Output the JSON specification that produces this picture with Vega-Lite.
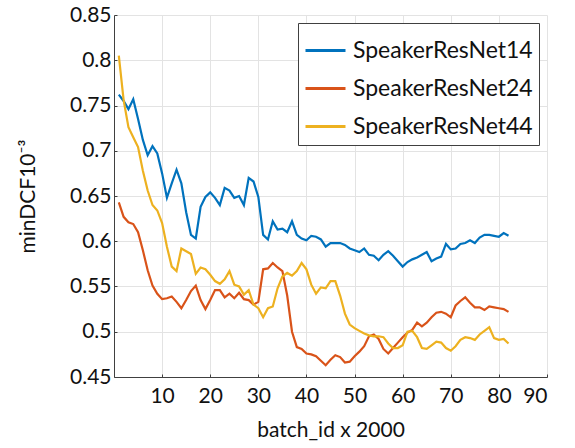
{
  "$schema": "https://vega.github.io/schema/vega-lite/v6.json",
  "autosize": {"type": "none"},
  "width": 433,
  "height": 362,
  "padding": {"left": 114, "top": 15, "right": 28, "bottom": 71},
  "background": "white",
  "config": {
    "font": "Lato",
    "view": {"stroke": null},
    "axis": {
      "labelFont": "Lato", "titleFont": "Lato", "labelColor": "#111", "titleColor": "#111",
      "labelFontSize": 21, "titleFontSize": 21, "titleFontWeight": "normal",
      "domainColor": "#404040", "domainWidth": 1, "tickColor": "#404040",
      "gridColor": "#e3e3e3", "gridWidth": 1
    },
    "legend": {
      "orient": "top-right", "offset": 8, "fillColor": "white", "strokeColor": "#404040",
      "padding": 6, "labelFont": "Lato", "labelFontSize": 23, "labelColor": "#111",
      "symbolType": "stroke", "symbolStrokeWidth": 3, "symbolSize": 1600, "rowPadding": 4,
      "labelOffset": 6, "title": null, "labelLimit": 400
    }
  },
  "data": {"values": [
    {"model":"SpeakerResNet14","x":1,"y":0.762},{"model":"SpeakerResNet14","x":2,"y":0.755},{"model":"SpeakerResNet14","x":3,"y":0.746},{"model":"SpeakerResNet14","x":4,"y":0.757},{"model":"SpeakerResNet14","x":5,"y":0.735},{"model":"SpeakerResNet14","x":6,"y":0.712},{"model":"SpeakerResNet14","x":7,"y":0.695},{"model":"SpeakerResNet14","x":8,"y":0.705},{"model":"SpeakerResNet14","x":9,"y":0.697},{"model":"SpeakerResNet14","x":10,"y":0.675},
    {"model":"SpeakerResNet14","x":11,"y":0.648},{"model":"SpeakerResNet14","x":12,"y":0.664},{"model":"SpeakerResNet14","x":13,"y":0.679},{"model":"SpeakerResNet14","x":14,"y":0.664},{"model":"SpeakerResNet14","x":15,"y":0.632},{"model":"SpeakerResNet14","x":16,"y":0.607},{"model":"SpeakerResNet14","x":17,"y":0.603},{"model":"SpeakerResNet14","x":18,"y":0.638},{"model":"SpeakerResNet14","x":19,"y":0.649},{"model":"SpeakerResNet14","x":20,"y":0.654},
    {"model":"SpeakerResNet14","x":21,"y":0.648},{"model":"SpeakerResNet14","x":22,"y":0.640},{"model":"SpeakerResNet14","x":23,"y":0.659},{"model":"SpeakerResNet14","x":24,"y":0.656},{"model":"SpeakerResNet14","x":25,"y":0.648},{"model":"SpeakerResNet14","x":26,"y":0.650},{"model":"SpeakerResNet14","x":27,"y":0.640},{"model":"SpeakerResNet14","x":28,"y":0.670},{"model":"SpeakerResNet14","x":29,"y":0.666},{"model":"SpeakerResNet14","x":30,"y":0.649},
    {"model":"SpeakerResNet14","x":31,"y":0.607},{"model":"SpeakerResNet14","x":32,"y":0.602},{"model":"SpeakerResNet14","x":33,"y":0.622},{"model":"SpeakerResNet14","x":34,"y":0.613},{"model":"SpeakerResNet14","x":35,"y":0.614},{"model":"SpeakerResNet14","x":36,"y":0.610},{"model":"SpeakerResNet14","x":37,"y":0.622},{"model":"SpeakerResNet14","x":38,"y":0.607},{"model":"SpeakerResNet14","x":39,"y":0.603},{"model":"SpeakerResNet14","x":40,"y":0.601},
    {"model":"SpeakerResNet14","x":41,"y":0.606},{"model":"SpeakerResNet14","x":42,"y":0.605},{"model":"SpeakerResNet14","x":43,"y":0.602},{"model":"SpeakerResNet14","x":44,"y":0.594},{"model":"SpeakerResNet14","x":45,"y":0.598},{"model":"SpeakerResNet14","x":46,"y":0.598},{"model":"SpeakerResNet14","x":47,"y":0.598},{"model":"SpeakerResNet14","x":48,"y":0.596},{"model":"SpeakerResNet14","x":49,"y":0.592},{"model":"SpeakerResNet14","x":50,"y":0.590},
    {"model":"SpeakerResNet14","x":51,"y":0.588},{"model":"SpeakerResNet14","x":52,"y":0.592},{"model":"SpeakerResNet14","x":53,"y":0.585},{"model":"SpeakerResNet14","x":54,"y":0.584},{"model":"SpeakerResNet14","x":55,"y":0.579},{"model":"SpeakerResNet14","x":56,"y":0.585},{"model":"SpeakerResNet14","x":57,"y":0.589},{"model":"SpeakerResNet14","x":58,"y":0.584},{"model":"SpeakerResNet14","x":59,"y":0.578},{"model":"SpeakerResNet14","x":60,"y":0.572},
    {"model":"SpeakerResNet14","x":61,"y":0.577},{"model":"SpeakerResNet14","x":62,"y":0.580},{"model":"SpeakerResNet14","x":63,"y":0.582},{"model":"SpeakerResNet14","x":64,"y":0.585},{"model":"SpeakerResNet14","x":65,"y":0.588},{"model":"SpeakerResNet14","x":66,"y":0.578},{"model":"SpeakerResNet14","x":67,"y":0.581},{"model":"SpeakerResNet14","x":68,"y":0.583},{"model":"SpeakerResNet14","x":69,"y":0.597},{"model":"SpeakerResNet14","x":70,"y":0.591},
    {"model":"SpeakerResNet14","x":71,"y":0.592},{"model":"SpeakerResNet14","x":72,"y":0.597},{"model":"SpeakerResNet14","x":73,"y":0.598},{"model":"SpeakerResNet14","x":74,"y":0.601},{"model":"SpeakerResNet14","x":75,"y":0.598},{"model":"SpeakerResNet14","x":76,"y":0.604},{"model":"SpeakerResNet14","x":77,"y":0.607},{"model":"SpeakerResNet14","x":78,"y":0.607},{"model":"SpeakerResNet14","x":79,"y":0.606},{"model":"SpeakerResNet14","x":80,"y":0.605},
    {"model":"SpeakerResNet14","x":81,"y":0.609},{"model":"SpeakerResNet14","x":82,"y":0.606},
    {"model":"SpeakerResNet24","x":1,"y":0.643},{"model":"SpeakerResNet24","x":2,"y":0.627},{"model":"SpeakerResNet24","x":3,"y":0.621},{"model":"SpeakerResNet24","x":4,"y":0.619},{"model":"SpeakerResNet24","x":5,"y":0.610},{"model":"SpeakerResNet24","x":6,"y":0.590},{"model":"SpeakerResNet24","x":7,"y":0.568},{"model":"SpeakerResNet24","x":8,"y":0.551},{"model":"SpeakerResNet24","x":9,"y":0.542},{"model":"SpeakerResNet24","x":10,"y":0.536},
    {"model":"SpeakerResNet24","x":11,"y":0.537},{"model":"SpeakerResNet24","x":12,"y":0.539},{"model":"SpeakerResNet24","x":13,"y":0.533},{"model":"SpeakerResNet24","x":14,"y":0.526},{"model":"SpeakerResNet24","x":15,"y":0.535},{"model":"SpeakerResNet24","x":16,"y":0.545},{"model":"SpeakerResNet24","x":17,"y":0.551},{"model":"SpeakerResNet24","x":18,"y":0.535},{"model":"SpeakerResNet24","x":19,"y":0.525},{"model":"SpeakerResNet24","x":20,"y":0.535},
    {"model":"SpeakerResNet24","x":21,"y":0.546},{"model":"SpeakerResNet24","x":22,"y":0.546},{"model":"SpeakerResNet24","x":23,"y":0.538},{"model":"SpeakerResNet24","x":24,"y":0.542},{"model":"SpeakerResNet24","x":25,"y":0.537},{"model":"SpeakerResNet24","x":26,"y":0.543},{"model":"SpeakerResNet24","x":27,"y":0.536},{"model":"SpeakerResNet24","x":28,"y":0.535},{"model":"SpeakerResNet24","x":29,"y":0.530},{"model":"SpeakerResNet24","x":30,"y":0.533},
    {"model":"SpeakerResNet24","x":31,"y":0.569},{"model":"SpeakerResNet24","x":32,"y":0.570},{"model":"SpeakerResNet24","x":33,"y":0.576},{"model":"SpeakerResNet24","x":34,"y":0.571},{"model":"SpeakerResNet24","x":35,"y":0.567},{"model":"SpeakerResNet24","x":36,"y":0.540},{"model":"SpeakerResNet24","x":37,"y":0.500},{"model":"SpeakerResNet24","x":38,"y":0.483},{"model":"SpeakerResNet24","x":39,"y":0.481},{"model":"SpeakerResNet24","x":40,"y":0.476},
    {"model":"SpeakerResNet24","x":41,"y":0.475},{"model":"SpeakerResNet24","x":42,"y":0.473},{"model":"SpeakerResNet24","x":43,"y":0.468},{"model":"SpeakerResNet24","x":44,"y":0.463},{"model":"SpeakerResNet24","x":45,"y":0.469},{"model":"SpeakerResNet24","x":46,"y":0.474},{"model":"SpeakerResNet24","x":47,"y":0.472},{"model":"SpeakerResNet24","x":48,"y":0.466},{"model":"SpeakerResNet24","x":49,"y":0.467},{"model":"SpeakerResNet24","x":50,"y":0.473},
    {"model":"SpeakerResNet24","x":51,"y":0.478},{"model":"SpeakerResNet24","x":52,"y":0.484},{"model":"SpeakerResNet24","x":53,"y":0.495},{"model":"SpeakerResNet24","x":54,"y":0.497},{"model":"SpeakerResNet24","x":55,"y":0.492},{"model":"SpeakerResNet24","x":56,"y":0.481},{"model":"SpeakerResNet24","x":57,"y":0.476},{"model":"SpeakerResNet24","x":58,"y":0.482},{"model":"SpeakerResNet24","x":59,"y":0.488},{"model":"SpeakerResNet24","x":60,"y":0.494},
    {"model":"SpeakerResNet24","x":61,"y":0.499},{"model":"SpeakerResNet24","x":62,"y":0.502},{"model":"SpeakerResNet24","x":63,"y":0.510},{"model":"SpeakerResNet24","x":64,"y":0.506},{"model":"SpeakerResNet24","x":65,"y":0.510},{"model":"SpeakerResNet24","x":66,"y":0.516},{"model":"SpeakerResNet24","x":67,"y":0.521},{"model":"SpeakerResNet24","x":68,"y":0.522},{"model":"SpeakerResNet24","x":69,"y":0.520},{"model":"SpeakerResNet24","x":70,"y":0.516},
    {"model":"SpeakerResNet24","x":71,"y":0.529},{"model":"SpeakerResNet24","x":72,"y":0.534},{"model":"SpeakerResNet24","x":73,"y":0.538},{"model":"SpeakerResNet24","x":74,"y":0.532},{"model":"SpeakerResNet24","x":75,"y":0.527},{"model":"SpeakerResNet24","x":76,"y":0.527},{"model":"SpeakerResNet24","x":77,"y":0.524},{"model":"SpeakerResNet24","x":78,"y":0.528},{"model":"SpeakerResNet24","x":79,"y":0.527},{"model":"SpeakerResNet24","x":80,"y":0.526},
    {"model":"SpeakerResNet24","x":81,"y":0.525},{"model":"SpeakerResNet24","x":82,"y":0.522},
    {"model":"SpeakerResNet44","x":1,"y":0.805},{"model":"SpeakerResNet44","x":2,"y":0.756},{"model":"SpeakerResNet44","x":3,"y":0.726},{"model":"SpeakerResNet44","x":4,"y":0.715},{"model":"SpeakerResNet44","x":5,"y":0.704},{"model":"SpeakerResNet44","x":6,"y":0.678},{"model":"SpeakerResNet44","x":7,"y":0.656},{"model":"SpeakerResNet44","x":8,"y":0.640},{"model":"SpeakerResNet44","x":9,"y":0.634},{"model":"SpeakerResNet44","x":10,"y":0.620},
    {"model":"SpeakerResNet44","x":11,"y":0.594},{"model":"SpeakerResNet44","x":12,"y":0.572},{"model":"SpeakerResNet44","x":13,"y":0.567},{"model":"SpeakerResNet44","x":14,"y":0.592},{"model":"SpeakerResNet44","x":15,"y":0.589},{"model":"SpeakerResNet44","x":16,"y":0.586},{"model":"SpeakerResNet44","x":17,"y":0.564},{"model":"SpeakerResNet44","x":18,"y":0.571},{"model":"SpeakerResNet44","x":19,"y":0.569},{"model":"SpeakerResNet44","x":20,"y":0.563},
    {"model":"SpeakerResNet44","x":21,"y":0.556},{"model":"SpeakerResNet44","x":22,"y":0.553},{"model":"SpeakerResNet44","x":23,"y":0.558},{"model":"SpeakerResNet44","x":24,"y":0.567},{"model":"SpeakerResNet44","x":25,"y":0.552},{"model":"SpeakerResNet44","x":26,"y":0.550},{"model":"SpeakerResNet44","x":27,"y":0.541},{"model":"SpeakerResNet44","x":28,"y":0.546},{"model":"SpeakerResNet44","x":29,"y":0.530},{"model":"SpeakerResNet44","x":30,"y":0.526},
    {"model":"SpeakerResNet44","x":31,"y":0.516},{"model":"SpeakerResNet44","x":32,"y":0.526},{"model":"SpeakerResNet44","x":33,"y":0.528},{"model":"SpeakerResNet44","x":34,"y":0.548},{"model":"SpeakerResNet44","x":35,"y":0.561},{"model":"SpeakerResNet44","x":36,"y":0.565},{"model":"SpeakerResNet44","x":37,"y":0.562},{"model":"SpeakerResNet44","x":38,"y":0.567},{"model":"SpeakerResNet44","x":39,"y":0.576},{"model":"SpeakerResNet44","x":40,"y":0.569},
    {"model":"SpeakerResNet44","x":41,"y":0.552},{"model":"SpeakerResNet44","x":42,"y":0.542},{"model":"SpeakerResNet44","x":43,"y":0.549},{"model":"SpeakerResNet44","x":44,"y":0.548},{"model":"SpeakerResNet44","x":45,"y":0.556},{"model":"SpeakerResNet44","x":46,"y":0.556},{"model":"SpeakerResNet44","x":47,"y":0.540},{"model":"SpeakerResNet44","x":48,"y":0.520},{"model":"SpeakerResNet44","x":49,"y":0.508},{"model":"SpeakerResNet44","x":50,"y":0.504},
    {"model":"SpeakerResNet44","x":51,"y":0.501},{"model":"SpeakerResNet44","x":52,"y":0.498},{"model":"SpeakerResNet44","x":53,"y":0.496},{"model":"SpeakerResNet44","x":54,"y":0.495},{"model":"SpeakerResNet44","x":55,"y":0.495},{"model":"SpeakerResNet44","x":56,"y":0.494},{"model":"SpeakerResNet44","x":57,"y":0.487},{"model":"SpeakerResNet44","x":58,"y":0.482},{"model":"SpeakerResNet44","x":59,"y":0.482},{"model":"SpeakerResNet44","x":60,"y":0.485},
    {"model":"SpeakerResNet44","x":61,"y":0.500},{"model":"SpeakerResNet44","x":62,"y":0.501},{"model":"SpeakerResNet44","x":63,"y":0.494},{"model":"SpeakerResNet44","x":64,"y":0.482},{"model":"SpeakerResNet44","x":65,"y":0.481},{"model":"SpeakerResNet44","x":66,"y":0.485},{"model":"SpeakerResNet44","x":67,"y":0.489},{"model":"SpeakerResNet44","x":68,"y":0.488},{"model":"SpeakerResNet44","x":69,"y":0.482},{"model":"SpeakerResNet44","x":70,"y":0.479},
    {"model":"SpeakerResNet44","x":71,"y":0.484},{"model":"SpeakerResNet44","x":72,"y":0.491},{"model":"SpeakerResNet44","x":73,"y":0.494},{"model":"SpeakerResNet44","x":74,"y":0.493},{"model":"SpeakerResNet44","x":75,"y":0.491},{"model":"SpeakerResNet44","x":76,"y":0.497},{"model":"SpeakerResNet44","x":77,"y":0.501},{"model":"SpeakerResNet44","x":78,"y":0.505},{"model":"SpeakerResNet44","x":79,"y":0.493},{"model":"SpeakerResNet44","x":80,"y":0.491},
    {"model":"SpeakerResNet44","x":81,"y":0.492},{"model":"SpeakerResNet44","x":82,"y":0.487}
  ]},
  "mark": {"type": "line", "strokeWidth": 2.2, "clip": true},
  "encoding": {
    "x": {
      "field": "x", "type": "quantitative",
      "scale": {"domain": [0, 90], "nice": false, "zero": false},
      "axis": {"values": [10, 20, 30, 40, 50, 60, 70, 80, 90], "title": "batch_id x 2000", "tickSize": -3, "labelPadding": 11, "titlePadding": 13}
    },
    "y": {
      "field": "y", "type": "quantitative",
      "scale": {"domain": [0.45, 0.85], "nice": false, "zero": false},
      "axis": {"values": [0.45, 0.5, 0.55, 0.6, 0.65, 0.7, 0.75, 0.8, 0.85], "format": ".2~f", "title": "minDCF10⁻³", "tickSize": -3, "labelPadding": 6, "titlePadding": 31}
    },
    "color": {
      "field": "model", "type": "nominal",
      "scale": {"domain": ["SpeakerResNet14", "SpeakerResNet24", "SpeakerResNet44"], "range": ["#0072BD", "#D95319", "#EDB120"]}
    }
  }
}
